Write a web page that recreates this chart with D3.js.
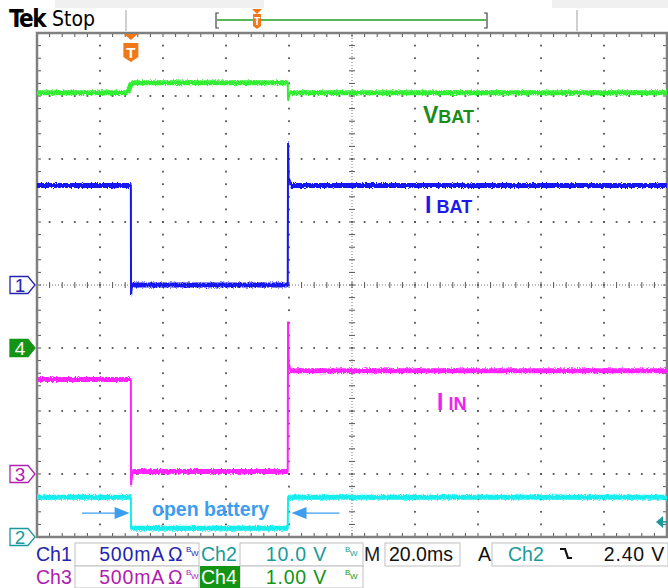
<!DOCTYPE html>
<head>
  <meta charset="UTF-8">
  <title>scope</title>
  <style>
  body, html, svg{
    padding: 0;
    margin: 0;
  }
  body{
    background: #fff;
  }
  svg{ display: block; }
  text{ font-family: "Liberation Sans", Arial, sans-serif; }
  </style>
</head>
<body>
  <script src="https://cdn.jsdelivr.net/npm/d3@7/dist/d3.min.js"></script>
  <script type="text/javascript">
  var width = 668;
  var height = 588;

  // horizontal: 20 ms/div, 10 div ; vertical: 8 div
  var timeTicks = d3.range(0, 201, 20);
  var divTicks = d3.range(0, 9);

  // Ch1 IBAT (A)
  var ch1Time = [0, 29.8, 29.85, 30.2, 79.6, 79.7, 79.9, 80.6, 200];
  var ch1Val  = [0.79, 0.79, -0.08, 0.0, 0.0, 1.13, 0.86, 0.79, 0.79];
  // Ch2 (V)
  var ch2Time = [0, 29.8, 29.85, 79.6, 79.7, 200];
  var ch2Val  = [6.3, 6.3, 1.4, 1.4, 6.3, 6.3];
  // Ch3 IIN (A)
  var ch3Time = [0, 29.8, 29.85, 30.3, 79.6, 79.7, 79.9, 80.5, 200];
  var ch3Val  = [0.75, 0.75, -0.09, 0.02, 0.02, 1.21, 0.88, 0.82, 0.82];
  // Ch4 VBAT (V)
  var ch4Time = [0, 28.8, 30.0, 79.6, 79.7, 80.3, 200];
  var ch4Val  = [4.05, 4.05, 4.21, 4.21, 3.93, 4.05, 4.05];

  var channels = [
    {name: '1', time: ch1Time, val: ch1Val, perDiv: 0.5, offset: 4, color: '#1414ee', marker: '#2424b0', fill: false},
    {name: '2', time: ch2Time, val: ch2Val, perDiv: 10,  offset: 0, color: '#14eeee', marker: '#1a9a9a', fill: false},
    {name: '3', time: ch3Time, val: ch3Val, perDiv: 0.5, offset: 1, color: '#ff22ff', marker: '#b020b0', fill: false},
    {name: '4', time: ch4Time, val: ch4Val, perDiv: 1,   offset: 3, color: '#33ee33', marker: '#149414', fill: true}
  ];
  var drawOrder = ['4', '1', '3', '2'];

  var triggerTime = 29.8;
  var triggerLevel = 2.40; // Ch2 volts

  // trace labels
  var labelMain  = ['V', 'I', 'I'];
  var labelSmall = ['BAT', 'BAT', 'IN'];
  var labelTime  = [122.5, 123.2, 127];
  var labelDiv   = [6.57, 5.14, 2.02];
  var labelColor = ['#1a8c1a', '#1a1aee', '#ee22ee'];

  var openText = 'open battery';
  var openArrowFrom = [14.3, 96];
  var openArrowTo = [29.4, 80.8];
  var openDiv = 0.38;

  var row1Names = ['Ch1', 'Ch2'];
  var row1Values = ['500mA', '10.0 V'];
  var row2Names = ['Ch3', 'Ch4'];
  var row2Values = ['500mA', '1.00 V'];
  var timebase = '20.0ms';
  var trigSource = 'Ch2';
  var trigText = '2.40 V';

  var svg = d3.select('body')
    .append('svg')
    .attr('width', width)
    .attr('height', height);

  var x = d3.scaleLinear().domain([0, 200]).range([37, 667]);
  var yDiv = d3.scaleLinear().domain([0, 8]).range([537, 33]);

  var defs = svg.append('defs');
  var filt = defs.append('filter')
    .attr('id', 'noise')
    .attr('filterUnits', 'userSpaceOnUse')
    .attr('x', 0).attr('y', 0).attr('width', width).attr('height', height);
  filt.append('feTurbulence')
    .attr('type', 'fractalNoise')
    .attr('baseFrequency', '1.2 0.7')
    .attr('numOctaves', 2)
    .attr('seed', 7)
    .attr('result', 't');
  filt.append('feColorMatrix')
    .attr('in', 't')
    .attr('type', 'matrix')
    .attr('values', '0 0 0 0 0.5  0 1 0 0 0  0 0 0 0 0  0 0 0 0 1')
    .attr('result', 'm');
  filt.append('feDisplacementMap')
    .attr('in', 'SourceGraphic')
    .attr('in2', 'm')
    .attr('scale', 4)
    .attr('xChannelSelector', 'R')
    .attr('yChannelSelector', 'G');

  //header
  var head = svg.append('g');
  head.append('rect').attr('x', 55).attr('y', 0).attr('width', 209).attr('height', 8).attr('fill', '#f0f0f0');
  head.append('rect').attr('x', 552).attr('y', 0).attr('width', 116).attr('height', 8).attr('fill', '#f0f0f0');
  head.append('text').attr('x', 9).attr('y', 27)
    .style('font-family', '"Liberation Sans Narrow", "DejaVu Sans Condensed", sans-serif')
    .style('font-weight', 'bold').style('font-size', '24px').style('letter-spacing', '-1.5px')
    .text('Tek');
  head.append('text').attr('x', 52).attr('y', 26)
    .style('font-family', '"Liberation Sans Narrow", "DejaVu Sans Condensed", sans-serif')
    .style('font-size', '21px')
    .text('Stop');
  [126, 577].forEach(function(px){
    head.append('line').attr('x1', px).attr('x2', px).attr('y1', 10).attr('y2', 31)
      .attr('stroke', '#b0b0b0').attr('stroke-width', 1.2);
  });
  head.append('path')
    .attr('d', 'M219,13 H216 V28 H219 M484,13 H487 V28 H484')
    .attr('fill', 'none').attr('stroke', '#444').attr('stroke-width', 1.2);
  head.append('line').attr('x1', 217).attr('x2', 486).attr('y1', 20).attr('y2', 20)
    .attr('stroke', '#20a020').attr('stroke-width', 1.3);
  head.append('path').attr('d', 'M252,9 L262,9 L257,14 Z').attr('fill', '#f07818');
  head.append('path').attr('d', 'M253,14 H261 V26 L257,29 L253,26 Z').attr('fill', '#f07818');
  head.append('text').attr('x', 257).attr('y', 25).attr('text-anchor', 'middle')
    .attr('fill', '#fff').style('font-size', '10px').style('font-weight', 'bold').text('T');

  //graticule
  var grid = svg.append('g');
  var sub = d3.range(0, 8 * 5 + 1).map(function(i){ return i / 5; });
  var subT = d3.range(0, 10 * 5 + 1).map(function(i){ return i * 4; });
  var dots = [];
  timeTicks.slice(1, -1).forEach(function(t){
    if(t === 100) return;
    sub.forEach(function(d){ dots.push([x(t), yDiv(d)]); });
  });
  divTicks.slice(1, -1).forEach(function(d){
    if(d === 4) return;
    subT.forEach(function(t){ dots.push([x(t), yDiv(d)]); });
  });
  grid.selectAll('rect.dot')
    .data(dots)
    .enter()
    .append('rect')
    .attr('class', 'dot')
    .attr('x', function(d){ return d[0] - 0.9; })
    .attr('y', function(d){ return d[1] - 0.9; })
    .attr('width', 1.8).attr('height', 1.8)
    .attr('fill', '#555');

  // center axes
  grid.append('line').attr('x1', x(0)).attr('x2', x(200)).attr('y1', yDiv(4)).attr('y2', yDiv(4))
    .attr('stroke', '#777').attr('stroke-width', 1).attr('stroke-dasharray', '1,2');
  grid.append('line').attr('x1', x(100)).attr('x2', x(100)).attr('y1', yDiv(0)).attr('y2', yDiv(8))
    .attr('stroke', '#777').attr('stroke-width', 1).attr('stroke-dasharray', '1,2');
  grid.selectAll('line.ht')
    .data(subT)
    .enter()
    .append('line')
    .attr('class', 'ht')
    .attr('x1', function(t){ return x(t); }).attr('x2', function(t){ return x(t); })
    .attr('y1', yDiv(4) - 3).attr('y2', yDiv(4) + 3)
    .attr('stroke', '#555').attr('stroke-width', 1);
  grid.selectAll('line.vt')
    .data(sub)
    .enter()
    .append('line')
    .attr('class', 'vt')
    .attr('x1', x(100) - 3).attr('x2', x(100) + 3)
    .attr('y1', function(d){ return yDiv(d); }).attr('y2', function(d){ return yDiv(d); })
    .attr('stroke', '#555').attr('stroke-width', 1);

  // border ticks
  grid.selectAll('path.bt')
    .data(subT)
    .enter()
    .append('path')
    .attr('class', 'bt')
    .attr('d', function(t){
      return 'M' + x(t) + ',' + yDiv(8) + 'v4 M' + x(t) + ',' + yDiv(0) + 'v-4';
    })
    .attr('stroke', '#555').attr('stroke-width', 1);
  grid.selectAll('path.bl')
    .data(sub)
    .enter()
    .append('path')
    .attr('class', 'bl')
    .attr('d', function(d){
      return 'M' + x(0) + ',' + yDiv(d) + 'h4 M' + x(200) + ',' + yDiv(d) + 'h-4';
    })
    .attr('stroke', '#555').attr('stroke-width', 1);
  grid.append('rect')
    .attr('x', x(0)).attr('y', yDiv(8))
    .attr('width', x(200) - x(0)).attr('height', yDiv(0) - yDiv(8))
    .attr('fill', 'none').attr('stroke', '#808080').attr('stroke-width', 2.5);

  //traces: thin full path for edges, thick band for the flat parts
  var traces = svg.append('g').attr('filter', 'url(#noise)');
  drawOrder.forEach(function(n){
    var ch = channels.find(function(c){ return c.name === n; });
    var line = d3.line()
      .x(function(d){ return x(d[0]); })
      .y(function(d){ return yDiv(ch.offset + d[1] / ch.perDiv); });
    var pts = ch.time.map(function(t, i){ return [t, ch.val[i]]; });
    traces.append('path')
      .datum(pts)
      .attr('d', line)
      .attr('fill', 'none')
      .attr('stroke', ch.color)
      .attr('stroke-width', 2);
    var flats = d3.pairs(pts).filter(function(p){ return p[1][0] - p[0][0] > 1; });
    traces.selectAll(null)
      .data(flats)
      .enter()
      .append('path')
      .attr('d', line)
      .attr('fill', 'none')
      .attr('stroke', ch.color)
      .attr('stroke-width', 5);
  });

  //channel ground markers
  var marks = svg.append('g');
  channels.forEach(function(ch){
    var cy = yDiv(ch.offset);
    var g = marks.append('g');
    g.append('path')
      .attr('d', 'M10,' + (cy - 8.5) + ' H28 L35,' + cy + ' L28,' + (cy + 8.5) + ' H10 Z')
      .attr('fill', ch.fill ? ch.marker : '#fff')
      .attr('stroke', ch.marker).attr('stroke-width', 1.3);
    g.append('text')
      .attr('x', 20).attr('y', cy + 7)
      .attr('text-anchor', 'middle')
      .attr('fill', ch.fill ? '#fff' : ch.marker)
      .style('font-size', '19px')
      .text(ch.name);
  });

  //trigger position marker
  var tx = x(triggerTime);
  svg.append('path')
    .attr('d', 'M' + (tx - 7) + ',34 L' + (tx + 7) + ',34 L' + tx + ',40 Z')
    .attr('fill', '#f07818');
  svg.append('path')
    .attr('d', 'M' + (tx - 7.5) + ',43 H' + (tx + 7.5) + ' V57 L' + tx + ',62 L' + (tx - 7.5) + ',57 Z')
    .attr('fill', '#f07818');
  svg.append('text').attr('x', tx).attr('y', 58).attr('text-anchor', 'middle')
    .attr('fill', '#fff').style('font-size', '15px').style('font-weight', 'bold').text('T');

  //trigger level marker
  var ch2 = channels[1];
  var ty = yDiv(ch2.offset + triggerLevel / ch2.perDiv);
  svg.append('path')
    .attr('d', 'M' + (x(200) - 11) + ',' + ty + ' L' + (x(200) - 4) + ',' + (ty - 6) + ' V' + (ty + 6) + ' Z')
    .attr('fill', '#1a9a9a');
  svg.append('line')
    .attr('x1', x(200) - 5).attr('x2', x(200)).attr('y1', ty).attr('y2', ty)
    .attr('stroke', '#1a9a9a').attr('stroke-width', 1.5);

  //labels
  var labels = svg.append('g');
  labelMain.forEach(function(m, i){
    var t = labels.append('text')
      .attr('x', x(labelTime[i])).attr('y', yDiv(labelDiv[i]))
      .attr('fill', labelColor[i])
      .style('font-weight', 'bold');
    t.append('tspan').style('font-size', '23px').text(m);
    t.append('tspan').style('font-size', '18px').attr('dx', i === 0 ? 0 : 5).text(labelSmall[i]);
  });

  var openColor = '#3d9df0';
  labels.append('text')
    .attr('x', x((openArrowTo[0] + openArrowTo[1]) / 2)).attr('y', yDiv(openDiv) + 3)
    .attr('text-anchor', 'middle')
    .attr('fill', openColor)
    .style('font-size', '19.5px').style('font-weight', 'bold')
    .text(openText);
  [0, 1].forEach(function(i){
    var x0 = x(openArrowFrom[i]), x1 = x(openArrowTo[i]);
    var ay = yDiv(openDiv);
    var dir = x1 > x0 ? 1 : -1;
    labels.append('line')
      .attr('x1', x0).attr('x2', x1 - dir * 10).attr('y1', ay).attr('y2', ay)
      .attr('stroke', openColor).attr('stroke-width', 1.3);
    labels.append('path')
      .attr('d', 'M' + x1 + ',' + ay + ' L' + (x1 - dir * 15) + ',' + (ay - 6) + ' L' + (x1 - dir * 15) + ',' + (ay + 6) + ' Z')
      .attr('fill', openColor);
  });

  //readout
  var rd = svg.append('g').style('font-size', '19.5px');
  var boxes = [
    [75, 543, 124, 23], [240, 543, 123, 23], [385, 543, 75, 23], [492, 543, 176, 23],
    [75, 566, 124, 22], [240, 566, 123, 22]
  ];
  rd.selectAll('rect.box')
    .data(boxes)
    .enter()
    .append('rect')
    .attr('class', 'box')
    .attr('x', function(d){ return d[0]; }).attr('y', function(d){ return d[1]; })
    .attr('width', function(d){ return d[2]; }).attr('height', function(d){ return d[3]; })
    .attr('fill', '#fff').attr('stroke', '#c0c0c0').attr('stroke-width', 1);
  rd.append('rect').attr('x', 200).attr('y', 566).attr('width', 40).attr('height', 22).attr('fill', '#149414');

  var rowColors = [[channels[0].marker, channels[1].marker], [channels[2].marker, channels[3].marker]];
  [[row1Names, row1Values, 561], [row2Names, row2Values, 584]].forEach(function(row, r){
    var cy = row[2];
    rd.append('text').attr('x', 36).attr('y', cy).attr('fill', rowColors[r][0]).text(row[0][0]);
    rd.append('text').attr('x', 165).attr('y', cy).attr('text-anchor', 'end')
      .attr('fill', rowColors[r][0]).style('letter-spacing', '0.8px').text(row[1][0]);
    rd.append('text').attr('x', 168).attr('y', cy).attr('fill', rowColors[r][0]).text('\u03A9');
    rd.append('text').attr('x', 186).attr('y', cy - 9).attr('fill', rowColors[r][0]).style('font-size', '8px').text('B');
    rd.append('text').attr('x', 191).attr('y', cy - 5).attr('fill', rowColors[r][0]).style('font-size', '8px').text('W');
    rd.append('text').attr('x', 201).attr('y', cy)
      .attr('fill', r === 1 ? '#fff' : rowColors[r][1]).text(row[0][1]);
    rd.append('text').attr('x', 327).attr('y', cy).attr('text-anchor', 'end')
      .attr('fill', r === 1 ? '#149414' : rowColors[r][1]).style('letter-spacing', '0.8px').text(row[1][1]);
    rd.append('text').attr('x', 345).attr('y', cy - 9).attr('fill', rowColors[r][1]).style('font-size', '8px').text('B');
    rd.append('text').attr('x', 350).attr('y', cy - 5).attr('fill', rowColors[r][1]).style('font-size', '8px').text('W');
  });
  rd.append('text').attr('x', 364).attr('y', 561).attr('fill', '#222').text('M');
  rd.append('text').attr('x', 389).attr('y', 561).attr('fill', '#111').text(timebase);
  rd.append('text').attr('x', 478).attr('y', 561).attr('fill', '#111').text('A');
  rd.append('text').attr('x', 508).attr('y', 561).attr('fill', channels[1].marker).text(trigSource);
  rd.append('path').attr('d', 'M560,549 H565 L568,558 H572')
    .attr('fill', 'none').attr('stroke', '#111').attr('stroke-width', 2.2);
  rd.append('text').attr('x', 665).attr('y', 561).attr('text-anchor', 'end')
    .attr('fill', '#111').style('letter-spacing', '0.8px').text(trigText);
  </script>
</body>
</html>
